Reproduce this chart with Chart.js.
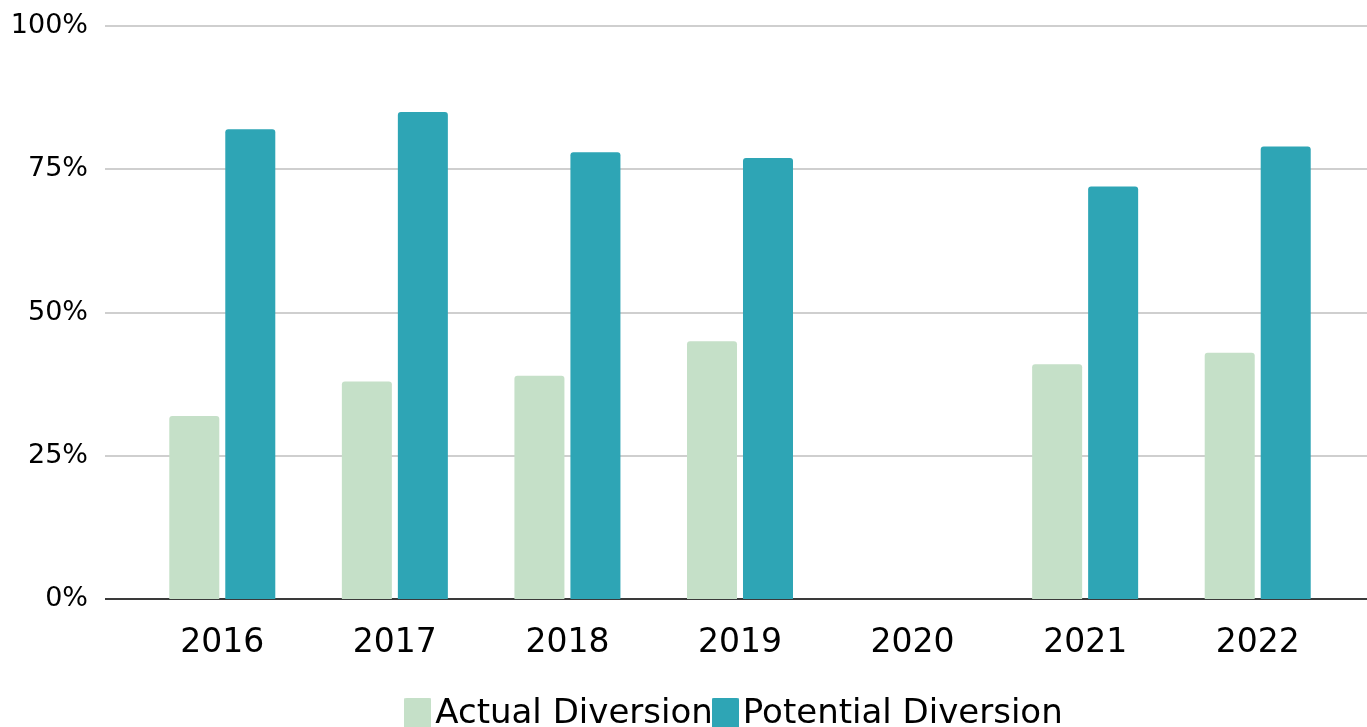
<!DOCTYPE html>
<html>
<head>
<meta charset="utf-8">
<script src="https://cdn.jsdelivr.net/npm/chart.js@4.4.0/dist/chart.umd.min.js"></script>
<style>
  html, body { margin: 0; padding: 0; background: #fff; overflow: hidden; }
  canvas { display: block; }
</style>
</head>
<body>
<canvas id="myChart" width="1367" height="741"></canvas>
<script>
'use strict';

var years = ['2016', '2017', '2018', '2019', '2020', '2021', '2022'];
var actualDiversion = [32, 38, 39, 45, null, 41, 43];
var potentialDiversion = [82, 85, 78, 77, null, 72, 79];
var percentTicks = [0, 25, 50, 75, 100];
var seriesColors = ['#c5e0c8', '#2ea5b5'];

// small square used as legend marker, sits right against the label text
function makeSwatch(color) {
  var c = document.createElement('canvas');
  c.width = 27;
  c.height = 33;
  var g = c.getContext('2d');
  g.fillStyle = color;
  g.beginPath();
  if (g.roundRect) g.roundRect(0, 0, 27, 33, 2);
  else g.rect(0, 0, 27, 33);
  g.fill();
  return c;
}
var swatches = seriesColors.map(makeSwatch);

// horizontal rules run past the plot on both sides, baseline darker
var gridLines = {
  id: 'gridLines',
  beforeDatasetsDraw: function (chart) {
    var ctx = chart.ctx;
    var yScale = chart.scales.y;
    var left = chart.chartArea.left - 31;
    var right = chart.width;
    ctx.save();
    ctx.lineWidth = 2;
    for (var i = 0; i < percentTicks.length; i++) {
      var y = Math.round(yScale.getPixelForValue(percentTicks[i]));
      ctx.strokeStyle = percentTicks[i] === 0 ? '#3a3a3a' : '#cfcfcf';
      ctx.beginPath();
      ctx.moveTo(left, y);
      ctx.lineTo(right, y);
      ctx.stroke();
    }
    ctx.restore();
  }
};

window.onload = function () {
  var ctx = document.getElementById('myChart').getContext('2d');
  Chart.defaults.font.family = '"DejaVu Sans", sans-serif';
  Chart.defaults.color = '#000';

  new Chart(ctx, {
    type: 'bar',
    data: {
      labels: years,
      datasets: [{
        label: 'Actual Diversion',
        data: actualDiversion,
        backgroundColor: seriesColors[0],
        borderRadius: 3
      }, {
        label: 'Potential Diversion',
        data: potentialDiversion,
        backgroundColor: seriesColors[1],
        borderRadius: 3
      }]
    },
    options: {
      responsive: false,
      animation: false,
      devicePixelRatio: 1,
      categoryPercentage: 0.649,
      barPercentage: 0.893,
      layout: {
        padding: { top: 26, left: 12, right: 23, bottom: 0 }
      },
      plugins: {
        tooltip: { enabled: false },
        legend: {
          position: 'bottom',
          fullSize: false,
          labels: {
            font: { size: 34 },
            usePointStyle: true,
            pointStyleWidth: 1,
            boxHeight: 33,
            padding: 12,
            generateLabels: function (chart) {
              var items = Chart.defaults.plugins.legend.labels.generateLabels(chart);
              items.forEach(function (item, i) {
                item.pointStyle = swatches[i];
              });
              return items;
            }
          }
        }
      },
      scales: {
        x: {
          grid: { display: false, drawTicks: false },
          border: { display: false },
          ticks: { font: { size: 33 }, padding: 24 },
          afterFit: function (scale) {
            scale.height = 85.6;
          }
        },
        y: {
          min: 0,
          max: 100,
          afterBuildTicks: function (scale) {
            scale.ticks = percentTicks.map(function (v) { return { value: v }; });
          },
          afterFit: function (scale) {
            scale.width = 124;
          },
          grid: {
            display: true,
            drawOnChartArea: false,
            drawTicks: true,
            tickLength: 48,
            tickColor: 'rgba(0,0,0,0)'
          },
          border: { display: false },
          ticks: {
            font: { size: 27 },
            padding: 0,
            callback: function (v) { return v + '%'; }
          }
        }
      }
    },
    plugins: [gridLines]
  });
};
</script>
</body>
</html>
